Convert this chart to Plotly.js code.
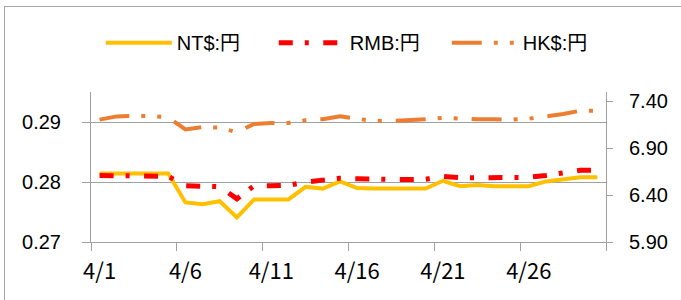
<!DOCTYPE html>
<html>
<head>
<meta charset="utf-8">
<script src="https://cdn.plot.ly/plotly-3.0.1.min.js"></script>
<style>
html,body{margin:0;padding:0;background:#fff;}
#frame{position:absolute;left:4px;top:6px;width:720px;height:340px;border:1px solid #a6a6a6;box-sizing:border-box;}
#chart{position:absolute;left:0;top:0;width:681px;height:300px;}
</style>
</head>
<body>
<div id="frame"></div>
<div id="chart"></div>
<script>
// Data (April, daily)
const dayNums = [1,2,3,4,5,6,7,8,9,10,11,12,13,14,15,16,17,18,19,20,21,22,23,24,25,26,27,28,29,30];
const tickDays = [1,6,11,16,21,26];
const tickLabels = ["4/1","4/6","4/11","4/16","4/21","4/26"];
const ntYen = [0.2814,0.2814,0.2814,0.2814,0.2814,0.2766,0.2763,0.2768,0.2741,0.2771,
               0.2771,0.2771,0.2792,0.2789,0.2801,0.2790,0.2789,0.2789,0.2789,0.2789,
               0.2802,0.2793,0.2795,0.2793,0.2793,0.2793,0.2801,0.2804,0.2808,0.2808];
const rmbYen = [6.61,6.61,6.61,6.61,6.60,6.50,6.49,6.49,6.36,6.50,
                6.50,6.505,6.54,6.555,6.58,6.575,6.567,6.567,6.567,6.57,
                6.60,6.585,6.585,6.585,6.585,6.59,6.61,6.64,6.665,6.665];
const hkdYen = [7.205,7.24,7.245,7.245,7.23,7.10,7.125,7.12,7.07,7.16,
                7.17,7.17,7.20,7.21,7.24,7.21,7.19,7.19,7.195,7.21,
                7.225,7.215,7.21,7.21,7.205,7.215,7.235,7.265,7.30,7.30];
const seriesNames = ["NT$:円","RMB:円","HK$:円"];

const boundaryTicks = [0.5,5.5,10.5,15.5,20.5,25.5,30.5];

const fontLat = "Liberation Sans, Arial, Noto Sans CJK JP, sans-serif";
const axisGray = "#a0a0a0";

const traces = [
  {x: dayNums, y: ntYen, name: seriesNames[0], type: "scatter", mode: "lines",
   line: {color: "#FFC000", width: 4}, xaxis: "x", yaxis: "y"},
  {x: dayNums, y: rmbYen, name: seriesNames[1], type: "scatter", mode: "lines",
   line: {color: "#FF0000", width: 5, dash: "14px,12px,4px,14.5px"}, xaxis: "x", yaxis: "y2"},
  {x: dayNums, y: hkdYen, name: seriesNames[2], type: "scatter", mode: "lines",
   line: {color: "#ED7D31", width: 4, dash: "30px,12px,4px,12px,4px,14px"}, xaxis: "x", yaxis: "y2"}
];

const layout = {
  width: 681, height: 300,
  margin: {l: 91, r: 75, t: 92, b: 58},
  paper_bgcolor: "rgba(0,0,0,0)",
  plot_bgcolor: "rgba(0,0,0,0)",
  showlegend: true,
  legend: {orientation: "h", x: 0.019, xanchor: "left", y: 1.329, yanchor: "middle",
           font: {family: fontLat, size: 20, color: "#000"}, itemwidth: 66,
           entrywidth: 92, entrywidthmode: "pixels",
           bgcolor: "rgba(0,0,0,0)", traceorder: "normal"},
  xaxis: {range: [0.5, 30.5], tickmode: "array", tickvals: tickDays, ticktext: tickLabels,
          ticks: "", showgrid: false, zeroline: false, showline: false,
          ticklabelstandoff: 14,
          tickfont: {family: "Noto Sans CJK JP, sans-serif", size: 22, color: "#000"}},
  xaxis2: {range: [0.5, 30.5], overlaying: "x", anchor: "y", side: "bottom",
           tickmode: "array", tickvals: boundaryTicks, showticklabels: false,
           ticks: "outside", ticklen: 8, tickcolor: axisGray, tickwidth: 1,
           showline: true, linecolor: axisGray, linewidth: 1, showgrid: false, zeroline: false},
  yaxis: {range: [0.27, 0.295], tick0: 0.27, dtick: 0.01, tickformat: ".2f",
          ticks: "outside", ticklen: 8, tickcolor: axisGray, tickwidth: 1,
          showline: true, linecolor: axisGray, linewidth: 1,
          showgrid: true, gridcolor: axisGray, gridwidth: 1, zeroline: false,
          ticklabelstandoff: 17,
          tickfont: {family: fontLat, size: 20, color: "#000"}},
  yaxis2: {range: [5.90, 7.50], tick0: 5.90, dtick: 0.5, tickformat: ".2f",
           overlaying: "y", side: "right", anchor: "x",
           ticks: "outside", ticklen: 6, tickcolor: axisGray, tickwidth: 1,
           showline: true, linecolor: axisGray, linewidth: 1,
           showgrid: false, zeroline: false,
           ticklabelstandoff: 12,
           tickfont: {family: fontLat, size: 20, color: "#000"}}
};

// helper trace to activate xaxis2 (boundary tick marks only)
traces.push({x: [dayNums[0]], y: [ntYen[0]], xaxis: "x2", yaxis: "y", mode: "lines",
             showlegend: false, hoverinfo: "skip", line: {width: 0}, type: "scatter"});

Plotly.newPlot("chart", traces, layout, {staticPlot: true, displayModeBar: false});
</script>
</body>
</html>
